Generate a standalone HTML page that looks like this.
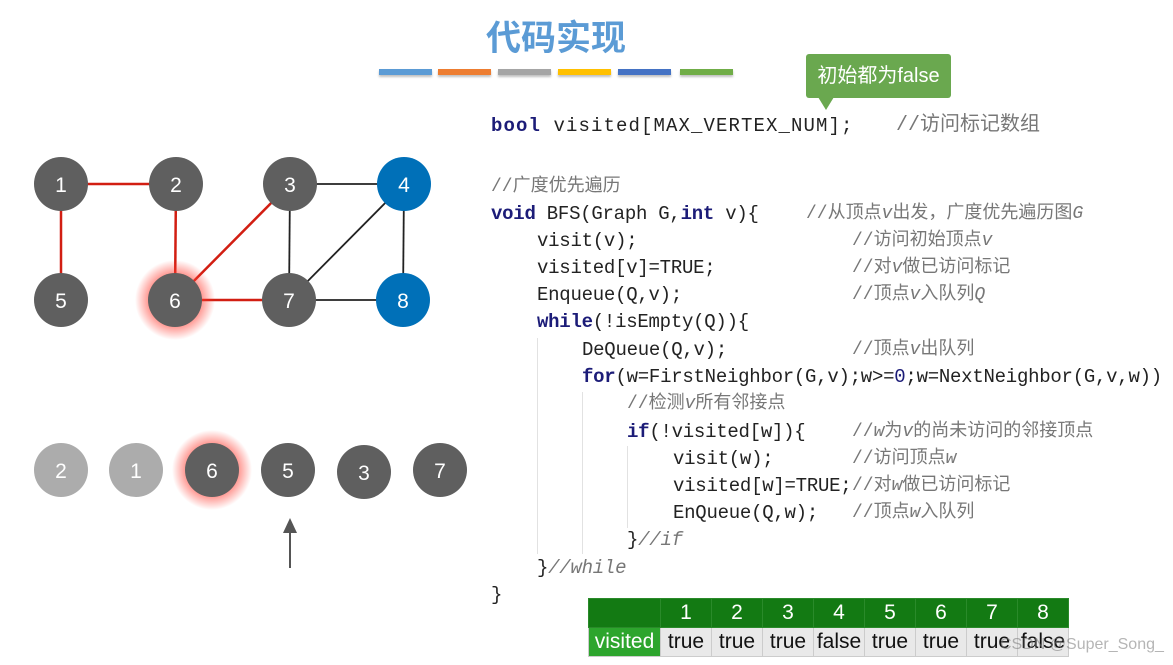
<!DOCTYPE html>
<html><head><meta charset="utf-8"><style>
body{margin:0;width:1173px;height:665px;background:#fff;position:relative;overflow:hidden;font-family:"Liberation Sans","Noto Sans CJK SC",sans-serif}
.c{position:absolute;font-family:"Liberation Mono","Noto Sans CJK SC",monospace;font-size:19px;color:#222;white-space:pre;line-height:24px;letter-spacing:-0.25px}
.k{color:#1c1c78;font-weight:bold}
.cm{position:absolute;font-family:"Liberation Mono","Noto Sans CJK SC",monospace;font-size:18px;color:#777;white-space:pre;line-height:24px}
.n{color:#1c1c78}
.bar{position:absolute;top:69px;height:6px;width:53px;box-shadow:0 2px 2px rgba(0,0,0,.25)}
.g{position:absolute;width:1px;background:#e2e2e2}
table{position:absolute;left:588px;top:598px;border-collapse:collapse;font-size:21px}
td{border:1px solid #ccc;text-align:center;padding:0;height:28px;width:50px}
tr.h td{background:#137a13;color:#fff;border-color:#2a8a2a}
tr.r td{background:#e9e9e9;color:#111}
</style></head><body>
<div style="position:absolute;left:486px;top:10px;font-size:35px;font-weight:bold;color:#5b9bd5;font-family:'Liberation Sans','Noto Sans CJK SC',sans-serif">代码实现</div>
<div class="bar" style="left:379px;background:#5b9bd5"></div>
<div class="bar" style="left:438px;background:#ed7d31"></div>
<div class="bar" style="left:498px;background:#a5a5a5"></div>
<div class="bar" style="left:558px;background:#ffc000"></div>
<div class="bar" style="left:618px;background:#4472c4"></div>
<div class="bar" style="left:680px;background:#70ad47"></div>

<div style="position:absolute;left:806px;top:54px;width:145px;height:44px;background:#6aa84f;border-radius:3px;color:#fff;font-size:20px;line-height:44px;text-align:center">初始都为false</div>
<div style="position:absolute;left:818px;top:97px;width:0;height:0;border-left:8px solid transparent;border-right:8px solid transparent;border-top:13px solid #6aa84f"></div>

<svg style="position:absolute;left:0;top:0" width="480" height="600">
<defs><radialGradient id="gl"><stop offset="0.55" stop-color="#ff3b30" stop-opacity=".7"/><stop offset="1" stop-color="#ff3b30" stop-opacity="0"/></radialGradient></defs>
<g stroke-width="2.5">
<line x1="61" y1="184" x2="176" y2="184" stroke="#d21e12"/>
<line x1="61" y1="184" x2="61" y2="300" stroke="#d21e12"/>
<line x1="176" y1="184" x2="175" y2="300" stroke="#d21e12"/>
<line x1="290" y1="184" x2="175" y2="300" stroke="#d21e12"/>
<line x1="175" y1="300" x2="289" y2="300" stroke="#d21e12"/>
</g>
<g stroke="#222" stroke-width="1.8">
<line x1="290" y1="184" x2="404" y2="184"/>
<line x1="290" y1="184" x2="289" y2="300"/>
<line x1="404" y1="184" x2="289" y2="300"/>
<line x1="404" y1="184" x2="403" y2="300"/>
<line x1="289" y1="300" x2="403" y2="300"/>
</g>
<circle cx="175" cy="300" r="40" fill="url(#gl)"/>
<circle cx="212" cy="470" r="40" fill="url(#gl)"/>
<g fill="#5f5f5f"><circle cx="61" cy="184" r="27"/><circle cx="176" cy="184" r="27"/><circle cx="290" cy="184" r="27"/><circle cx="61" cy="300" r="27"/><circle cx="175" cy="300" r="27"/><circle cx="289" cy="300" r="27"/>
<circle cx="212" cy="470" r="27"/><circle cx="288" cy="470" r="27"/><circle cx="364" cy="472" r="27"/><circle cx="440" cy="470" r="27"/></g>
<g fill="#0070b8"><circle cx="404" cy="184" r="27"/><circle cx="403" cy="300" r="27"/></g>
<g fill="#acacac"><circle cx="61" cy="470" r="27"/><circle cx="136" cy="470" r="27"/></g>
<g fill="#fff" font-size="21" text-anchor="middle" font-family="Liberation Sans,sans-serif">
<text x="61" y="192">1</text><text x="176" y="192">2</text><text x="290" y="192">3</text><text x="404" y="192">4</text>
<text x="61" y="308">5</text><text x="175" y="308">6</text><text x="289" y="308">7</text><text x="403" y="308">8</text>
<text x="61" y="478">2</text><text x="136" y="478">1</text><text x="212" y="478">6</text><text x="288" y="478">5</text><text x="364" y="480">3</text><text x="440" y="478">7</text>
</g>
<line x1="290" y1="568" x2="290" y2="530" stroke="#555" stroke-width="2"/>
<polygon points="283,533 297,533 290,518" fill="#555"/>
</svg>

<div class="g" style="left:537px;top:338px;height:216px"></div>
<div class="g" style="left:582px;top:392px;height:162px"></div>
<div class="g" style="left:627px;top:446px;height:82px"></div>

<div class="c" style="left:491px;top:114px;letter-spacing:1.1px"><span class="k">bool</span> visited[MAX_VERTEX_NUM];</div>
<div class="cm" style="left:896px;top:114px;font-size:20px">//访问标记数组</div>
<div class="cm" style="left:491px;top:175px">//广度优先遍历</div>
<div class="c" style="left:491px;top:202px"><span class="k">void</span> BFS(Graph G,<span class="k">int</span> v){</div>
<div class="cm" style="left:806px;top:202px">//从顶点<i>v</i>出发，广度优先遍历图<i>G</i></div>
<div class="c" style="left:537px;top:229px">visit(v);</div><div class="cm" style="left:852px;top:229px">//访问初始顶点<i>v</i></div>
<div class="c" style="left:537px;top:256px">visited[v]=TRUE;</div><div class="cm" style="left:852px;top:256px">//对<i>v</i>做已访问标记</div>
<div class="c" style="left:537px;top:283px">Enqueue(Q,v);</div><div class="cm" style="left:852px;top:283px">//顶点<i>v</i>入队列<i>Q</i></div>
<div class="c" style="left:537px;top:310px"><span class="k">while</span>(!isEmpty(Q)){</div>
<div class="c" style="left:582px;top:338px">DeQueue(Q,v);</div><div class="cm" style="left:852px;top:338px">//顶点<i>v</i>出队列</div>
<div class="c" style="left:582px;top:365px"><span class="k">for</span>(w=FirstNeighbor(G,v);w>=<span class="n">0</span>;w=NextNeighbor(G,v,w))</div>
<div class="cm" style="left:627px;top:392px">//检测<i>v</i>所有邻接点</div>
<div class="c" style="left:627px;top:420px"><span class="k">if</span>(!visited[w]){</div><div class="cm" style="left:852px;top:420px">//<i>w</i>为<i>v</i>的尚未访问的邻接顶点</div>
<div class="c" style="left:673px;top:447px">visit(w);</div><div class="cm" style="left:852px;top:447px">//访问顶点<i>w</i></div>
<div class="c" style="left:673px;top:474px">visited[w]=TRUE;</div><div class="cm" style="left:852px;top:474px">//对<i>w</i>做已访问标记</div>
<div class="c" style="left:673px;top:501px">EnQueue(Q,w);</div><div class="cm" style="left:852px;top:501px">//顶点<i>w</i>入队列</div>
<div class="c" style="left:627px;top:528px">}<span style="color:#777;font-style:italic">//if</span></div>
<div class="c" style="left:537px;top:556px">}<span style="color:#777;font-style:italic">//while</span></div>
<div class="c" style="left:491px;top:583px">}</div>

<table>
<tr class="h"><td style="width:71px"></td><td>1</td><td>2</td><td>3</td><td>4</td><td>5</td><td>6</td><td>7</td><td>8</td></tr>
<tr class="r"><td style="background:#2da52d;color:#fff">visited</td><td>true</td><td>true</td><td>true</td><td>false</td><td>true</td><td>true</td><td>true</td><td>false</td></tr>
</table>
<div style="position:absolute;left:1000px;top:636px;font-size:16px;color:rgba(120,120,120,.55)">CSDN @Super_Song_</div>
</body></html>
